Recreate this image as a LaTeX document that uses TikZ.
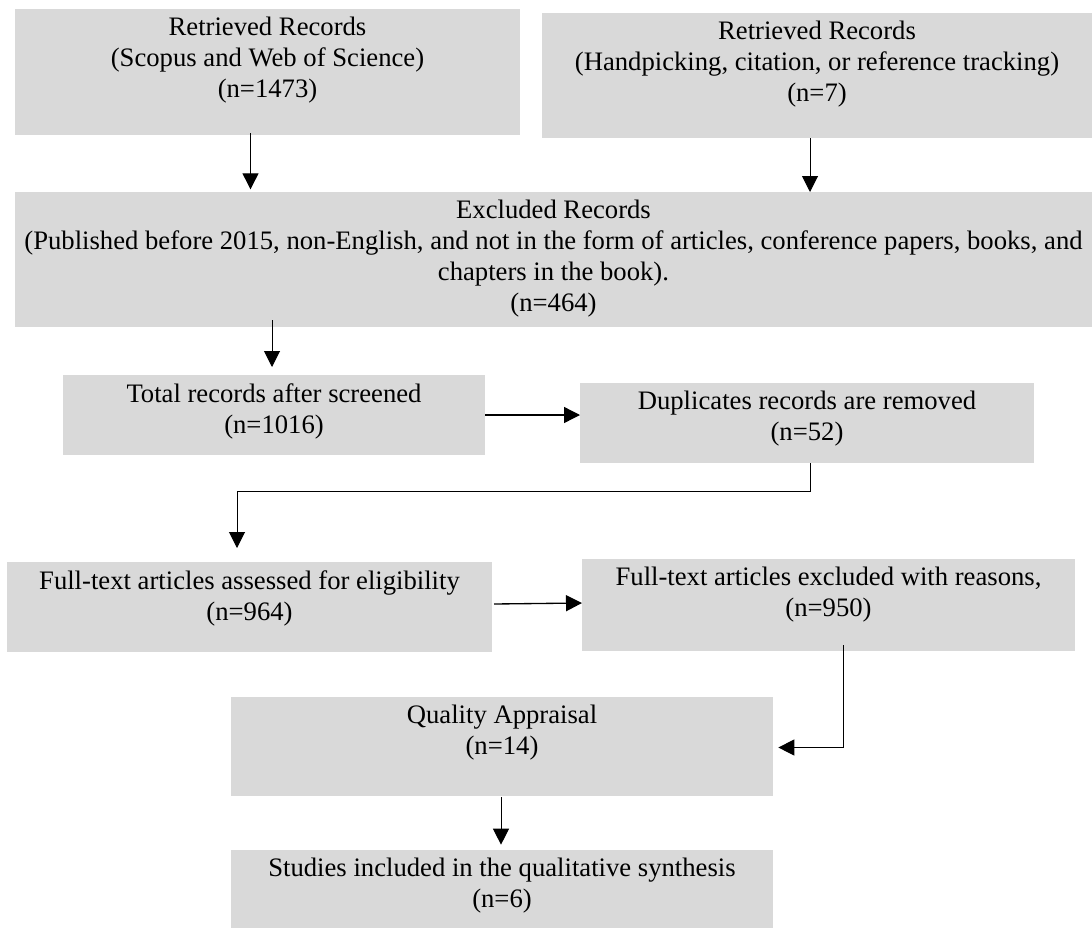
\documentclass[tikz,border=0pt]{standalone}
\usepackage{fontspec}
\setmainfont{Liberation Serif}
\usepackage{xcolor}
\usetikzlibrary{arrows.meta,positioning}
\definecolor{boxgray}{RGB}{217,217,217}

\begin{document}
\begin{tikzpicture}[x=0.75pt,y=0.75pt,yscale=-1,xscale=1,
  box/.style={fill=boxgray,inner sep=0pt,outer sep=0pt},
  txt/.style={align=center,inner sep=0pt,font=\fontsize{20}{23.3}\selectfont},
  arr/.style={line width=0.75pt,-{Triangle[length=12pt,width=12pt]}}]
\useasboundingbox (0,0) rectangle (1092,928); %set diagram size 1092 x 928

%Shape: Rectangle
\node[box,minimum width=378.75pt,minimum height=94.5pt] (ret1) at (267.5,72) {};
%Shape: Rectangle
\node[box,minimum width=412.5pt,minimum height=93.75pt] (ret2) at (817,75.5) {};
%Shape: Rectangle
\node[box,minimum width=807.75pt,minimum height=101.25pt] (excl) at (553.5,259.5) {};
%Shape: Rectangle
\node[box,minimum width=316.5pt,minimum height=60pt] (total) at (274,415) {};
%Shape: Rectangle
\node[box,minimum width=340.5pt,minimum height=60pt] (dup) at (807,423) {};
%Shape: Rectangle
\node[box,minimum width=363.75pt,minimum height=67.5pt] (full) at (249.5,607) {};
%Shape: Rectangle
\node[box,minimum width=369.75pt,minimum height=69pt] (fexcl) at (828.5,605) {};
%Shape: Rectangle
\node[box,minimum width=406.5pt,minimum height=74.25pt] (qual) at (502,746.5) {};
%Shape: Rectangle
\node[box,minimum width=406.5pt,minimum height=58.5pt] (stud) at (502,889) {};

% Text Node
\node[txt,anchor=north] (ret1-t) at ([shift={(0,8)}]ret1.north) {Retrieved Records\\(Scopus and Web of Science)\\(n=1473)};
% Text Node
\node[txt,anchor=north] (ret2-t) at ([shift={(0,8)}]ret2.north) {Retrieved Records\\(Handpicking, citation, or reference tracking)\\(n=7)};
% Text Node
\node[txt,anchor=north] (excl-t) at ([shift={(0,8)}]excl.north) {Excluded Records\\(Published before 2015, non-English, and not in the form of articles, conference papers, books, and\\chapters in the book).\\(n=464)};
% Text Node
\node[txt,anchor=north] (total-t) at ([shift={(0,8)}]total.north) {Total records after screened\\(n=1016)};
% Text Node
\node[txt,anchor=north] (dup-t) at ([shift={(0,8)}]dup.north) {Duplicates records are removed\\(n=52)};
% Text Node
\node[txt,anchor=north] (full-t) at ([shift={(0,8)}]full.north) {Full-text articles assessed for eligibility\\(n=964)};
% Text Node
\node[txt,anchor=north] (fexcl-t) at ([shift={(0,8)}]fexcl.north) {Full-text articles excluded with reasons,\\(n=950)};
% Text Node
\node[txt,anchor=north] (qual-t) at ([shift={(0,8)}]qual.north) {Quality Appraisal\\(n=14)};
% Text Node
\node[txt,anchor=north] (stud-t) at ([shift={(0,8)}]stud.north) {Studies included in the qualitative synthesis\\(n=6)};

%Straight Lines
\draw[arr,shorten >=2pt] ([shift={(-17,-2)}]ret1.south) -- ([shift={(-17,0)}]ret1.south |- excl.north);
%Straight Lines
\draw[arr] ([shift={(-7,0)}]ret2.south) -- ([shift={(-7,0)}]ret2.south |- excl.north);
%Straight Lines
\draw[arr,shorten >=6pt] ([shift={(-2,-7)}]total.north |- excl.south) -- ([shift={(-2,0)}]total.north);
%Straight Lines
\draw[arr,line width=1pt] (total.east) -- (total.east -| dup.west);
%Elbow Lines
\draw[arr,shorten >=10.5pt] ([shift={(3,0)}]dup.south) -- ++(0,28) -| ([shift={(-12.5,0)}]full.north);
%Straight Lines
\draw[arr,line width=1pt] ([shift={(2,-3)}]full.east) -- ([shift={(0,-2)}]fexcl.west);
%Elbow Lines
\draw[arr,shorten >=4pt] ([shift={(14.5,-6)}]fexcl.south) |- ([shift={(0,1)}]qual.east);
%Straight Lines
\draw[arr,shorten >=4pt] ([shift={(-1,1)}]qual.south) -- ([shift={(-1,0)}]stud.north);

\end{tikzpicture}
\end{document}
